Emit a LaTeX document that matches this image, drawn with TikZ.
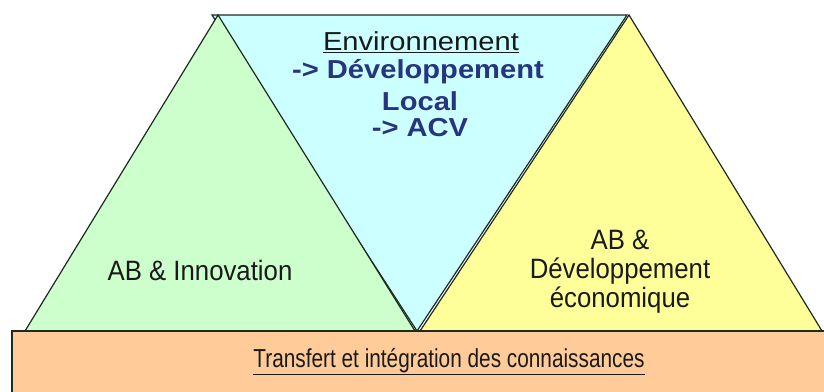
\documentclass[tikz,border=0pt]{standalone}
\usepackage{fontspec}
\setmainfont{Liberation Sans}
\newfontfamily\topfont{Liberation Sans}[FakeStretch=1.12]
\newfontfamily\midfont{Liberation Sans}[FakeStretch=0.92]
\newfontfamily\lowfont{Liberation Sans}[FakeStretch=0.8]
\definecolor{gfill}{HTML}{CCFFCC}
\definecolor{bfill}{HTML}{CCFFFF}
\definecolor{yfill}{HTML}{FFFF99}
\definecolor{ofill}{HTML}{FFCC99}
\definecolor{edge}{HTML}{1C2A22}
\definecolor{navy}{HTML}{27357F}
\definecolor{ink}{HTML}{1A1A1A}
\tikzset{
  face/.style={draw=edge, line width=1.2pt, line join=miter},
  toptext/.style={font=\topfont\fontsize{26}{29}\selectfont, align=center, inner sep=0pt},
  midtext/.style={font=\midfont\fontsize{28}{29}\selectfont, align=center, inner sep=0pt, text=ink},
  lowtext/.style={font=\lowfont\fontsize{26}{29}\selectfont, align=center, inner sep=0pt, text=ink},
}
\begin{document}
\begin{tikzpicture}[x=1pt,y=-1pt]
\useasboundingbox (0,0) rectangle (824,391);
\clip (0,0) rectangle (824,391);
\fill[white] (0,0) rectangle (824,391);
% blue inverted triangle
\draw[face, fill=bfill] (212,15) -- (627,15) -- (417,331) -- cycle;
% green triangle
\draw[face, fill=gfill] (218,15) -- (25,331) -- (415,331) -- cycle;
% yellow triangle
\draw[face, fill=yfill] (629,15) -- (420,331) -- (822,331) -- cycle;
% orange base
\draw[face, fill=ofill] (12,331) rectangle (840,400);
% texts
\node[toptext, text=ink] (env) at (421,42) {\underline{Environnement}};
\node[toptext, text=navy] (dev) at (418,72) {\bfseries -> Développement};
\node[toptext, text=navy] (loc) at (420,101) {\bfseries Local};
\node[toptext, text=navy] (acv) at (420,128) {\bfseries -> ACV};
\node[midtext] (inno) at (200,270) {AB \& Innovation};
\node[midtext] (eco) at (620,272) {AB \&\\Développement\\économique};
\node[lowtext] (trans) at (449,362) {\underline{Transfert et intégration des connaissances}};
\end{tikzpicture}
\end{document}
